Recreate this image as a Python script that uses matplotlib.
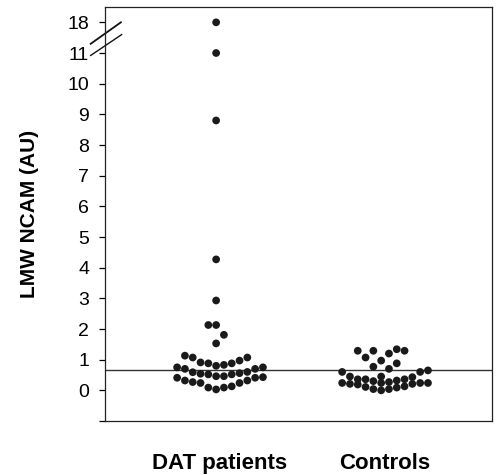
import matplotlib
matplotlib.use("Agg")
import matplotlib.pyplot as plt

plt.rcParams["font.family"] = ["Liberation Sans", "DejaVu Sans"]

# values (AU)
groups = ["DAT patients", "Controls"]
dat_values = [18, 11, 8.8, 4.27, 2.93, 2.13, 2.13, 1.81, 1.53,
              1.13, 1.07, 1.07, 0.97, 0.91, 0.88, 0.88, 0.83, 0.80, 0.75, 0.75,
              0.70, 0.70, 0.60, 0.59, 0.56, 0.54, 0.52, 0.52, 0.46, 0.46,
              0.43, 0.41, 0.41, 0.32, 0.32, 0.27, 0.24, 0.24, 0.13, 0.09, 0.09, 0.03]
control_values = [1.34, 1.29, 1.29, 1.29, 1.20, 1.07,
                  0.97, 0.88, 0.77, 0.70, 0.65, 0.60, 0.60,
                  0.45, 0.45, 0.43, 0.36, 0.36, 0.36, 0.32, 0.30, 0.27, 0.24, 0.24,
                  0.24, 0.24, 0.21, 0.21, 0.19, 0.13, 0.11, 0.09, 0.04, 0.04, 0.0]
cutoff = 0.65
ytick_values = [-1, 0, 1, 2, 3, 4, 5, 6, 7, 8, 9, 10, 11, 18]
ytick_labels = ["", "0", "1", "2", "3", "4", "5", "6", "7", "8", "9", "10", "11", "18"]

BREAK_LO, BREAK_HI = 11, 18


def to_axis(v):
    # compress the 11..18 span into one unit above the break
    if v <= BREAK_LO:
        return v
    return BREAK_LO + (v - BREAK_LO) / (BREAK_HI - BREAK_LO)


def band_offsets(vals, y_scale, n_cols, col_px, cap_px):
    # spread points over a fixed band of columns: each point goes to the column
    # where it sits furthest from its neighbours, nearest the middle on ties
    mid = (n_cols - 1) / 2
    cols = [[] for _ in range(n_cols)]
    out = [0.0] * len(vals)
    for idx in sorted(range(len(vals)), key=lambda j: vals[j]):
        y = vals[idx] * y_scale
        best = None
        for c in range(n_cols):
            gap = min([abs(y - yy) for yy in cols[c]] + [cap_px])
            key = (-min(gap, cap_px), abs(c - mid + 0.3))
            if best is None or key < best[0]:
                best = (key, c)
        c = best[1]
        cols[c].append(y)
        out[idx] = (c - mid) * col_px
    return out


W, H, DPI = 4.96, 4.75, 100
fig = plt.figure(figsize=(W, H), dpi=DPI)
ax = fig.add_axes([105 / 496, 54 / 475, 387 / 496, 414 / 475])

xlim = (-0.697, 1.648)
ylim = (-1.0, 12.5)
ax.set_xlim(*xlim)
ax.set_ylim(*ylim)

x_px = 387 / (xlim[1] - xlim[0])
y_px = 414 / (ylim[1] - ylim[0])

for i, vals in enumerate([dat_values, control_values]):
    yv = [to_axis(v) for v in vals]
    offs = band_offsets(yv, y_px, 12, 7.8, 14.0)
    xs = [i + o / x_px for o in offs]
    ax.scatter(xs, yv, s=31, color="#1a1a1a", edgecolors="none", zorder=3, clip_on=False)

ax.axhline(cutoff, color="#333333", linewidth=1.0, zorder=2)

ax.set_yticks([to_axis(v) for v in ytick_values])
ax.set_yticklabels(ytick_labels)
ax.set_xticks(range(len(groups)))
ax.set_xticklabels(groups, fontsize=16, fontweight="bold")
ax.tick_params(axis="y", direction="out", length=4.5, width=0.9, pad=7, labelsize=14)
ax.tick_params(axis="x", length=0, pad=23)
ax.set_ylabel("LMW NCAM (AU)", fontsize=15, fontweight="bold", labelpad=20)

for sp in ax.spines.values():
    sp.set_linewidth(0.9)
    sp.set_color("#222222")

# axis break marks on the left spine
tr = ax.get_yaxis_transform()
ax.plot([-0.037, 0.041], [11.30, 12.0], color="#111111", linewidth=1.3, transform=tr, clip_on=False)
ax.plot([-0.037, 0.043], [10.92, 11.60], color="#111111", linewidth=1.0, transform=tr, clip_on=False)

fig.savefig("out.png", dpi=DPI)
